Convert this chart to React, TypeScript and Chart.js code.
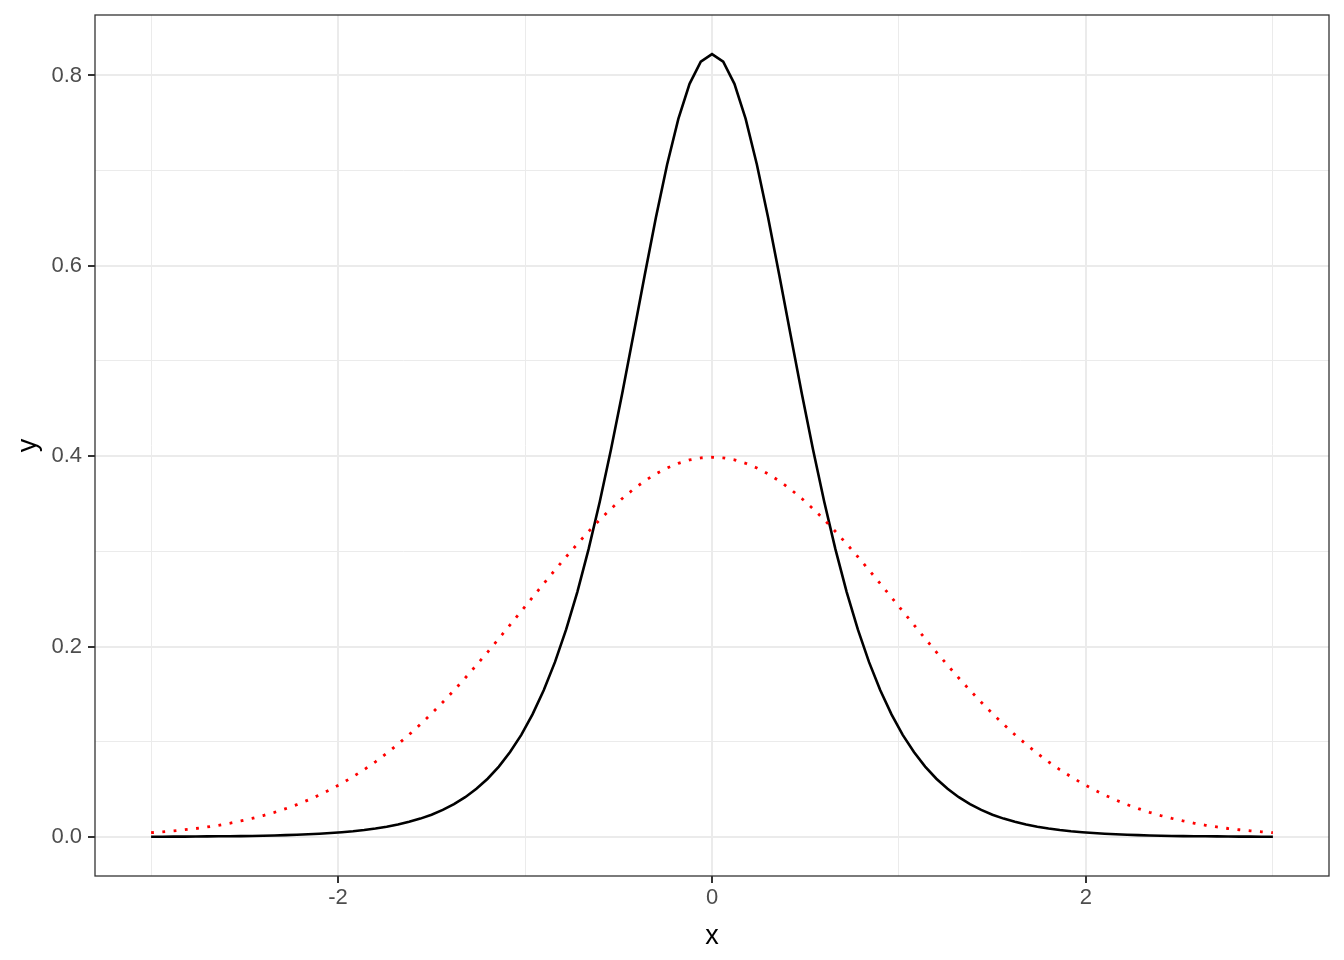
import React, { useEffect, useRef } from "react";
import { Chart, registerables } from "chart.js";

Chart.register(...registerables);

// x positions of the sampled curves
const xValues = [
  -3, -2.94, -2.88, -2.82, -2.76, -2.7, -2.64, -2.58, -2.52, -2.46,
  -2.4, -2.34, -2.28, -2.22, -2.16, -2.1, -2.04, -1.98, -1.92, -1.86,
  -1.8, -1.74, -1.68, -1.62, -1.56, -1.5, -1.44, -1.38, -1.32, -1.26,
  -1.2, -1.14, -1.08, -1.02, -0.96, -0.9, -0.84, -0.78, -0.72, -0.66,
  -0.6, -0.54, -0.48, -0.42, -0.36, -0.3, -0.24, -0.18, -0.12, -0.06,
  0,
  0.06, 0.12, 0.18, 0.24, 0.3, 0.36, 0.42, 0.48, 0.54, 0.6,
  0.66, 0.72, 0.78, 0.84, 0.9, 0.96, 1.02, 1.08, 1.14, 1.2,
  1.26, 1.32, 1.38, 1.44, 1.5, 1.56, 1.62, 1.68, 1.74, 1.8,
  1.86, 1.92, 1.98, 2.04, 2.1, 2.16, 2.22, 2.28, 2.34, 2.4,
  2.46, 2.52, 2.58, 2.64, 2.7, 2.76, 2.82, 2.88, 2.94, 3,
];

// black solid curve (peaked)
const peakedCurve = [
  0.0002, 0.0002, 0.0003, 0.0003, 0.0004, 0.0005, 0.0006, 0.0007, 0.0008, 0.001,
  0.0012, 0.0015, 0.0018, 0.0022, 0.0027, 0.0033, 0.004, 0.0049, 0.0059, 0.0072,
  0.0088, 0.0107, 0.013, 0.0158, 0.0192, 0.0233, 0.0283, 0.0344, 0.0417, 0.0505,
  0.0611, 0.0738, 0.0891, 0.1072, 0.1287, 0.154, 0.1836, 0.218, 0.2575, 0.3023,
  0.3523, 0.4073, 0.4662, 0.5278, 0.5901, 0.6507, 0.7065, 0.7543, 0.7912, 0.8144,
  0.8224,
  0.8144, 0.7912, 0.7543, 0.7065, 0.6507, 0.5901, 0.5278, 0.4662, 0.4073, 0.3523,
  0.3023, 0.2575, 0.218, 0.1836, 0.154, 0.1287, 0.1072, 0.0891, 0.0738, 0.0611,
  0.0505, 0.0417, 0.0344, 0.0283, 0.0233, 0.0192, 0.0158, 0.013, 0.0107, 0.0088,
  0.0072, 0.0059, 0.0049, 0.004, 0.0033, 0.0027, 0.0022, 0.0018, 0.0015, 0.0012,
  0.001, 0.0008, 0.0007, 0.0006, 0.0005, 0.0004, 0.0003, 0.0003, 0.0002, 0.0002,
];

// red dotted curve (normal)
const normalCurve = [
  0.0044, 0.0053, 0.0063, 0.0075, 0.0088, 0.0104, 0.0122, 0.0143, 0.0167, 0.0194,
  0.0224, 0.0258, 0.0297, 0.0339, 0.0387, 0.044, 0.0498, 0.0562, 0.0632, 0.0707,
  0.0789, 0.0878, 0.0973, 0.1074, 0.1182, 0.1295, 0.1415, 0.1539, 0.1669, 0.1804,
  0.1942, 0.2083, 0.2227, 0.2371, 0.2516, 0.2661, 0.2803, 0.2943, 0.3078, 0.3209,
  0.3332, 0.3448, 0.3555, 0.3653, 0.3739, 0.3814, 0.3876, 0.3925, 0.3961, 0.3982,
  0.3989,
  0.3982, 0.3961, 0.3925, 0.3876, 0.3814, 0.3739, 0.3653, 0.3555, 0.3448, 0.3332,
  0.3209, 0.3078, 0.2943, 0.2803, 0.2661, 0.2516, 0.2371, 0.2227, 0.2083, 0.1942,
  0.1804, 0.1669, 0.1539, 0.1415, 0.1295, 0.1182, 0.1074, 0.0973, 0.0878, 0.0789,
  0.0707, 0.0632, 0.0562, 0.0498, 0.044, 0.0387, 0.0339, 0.0297, 0.0258, 0.0224,
  0.0194, 0.0167, 0.0143, 0.0122, 0.0104, 0.0088, 0.0075, 0.0063, 0.0053, 0.0044,
];

const xGridValues = [-3, -2, -1, 0, 1, 2, 3];
const xMajorTicks = [-2, 0, 2];
const xTickLabels = ["-2", "0", "2"];
const yGridValues = [0, 0.1, 0.2, 0.3, 0.4, 0.5, 0.6, 0.7, 0.8];
const yMajorTicks = [0, 0.2, 0.4, 0.6, 0.8];
const yTickLabels = ["0.0", "0.2", "0.4", "0.6", "0.8"];

const FONT = "'Liberation Sans', Arial, Helvetica, sans-serif";

const near = (a: number, b: number) => Math.abs(a - b) < 1e-6;
const majorIndex = (list: number[], v: number) => list.findIndex((m) => near(m, v));

const panelBorder = {
  id: "panelBorder",
  afterDatasetsDraw(chart: any) {
    const { ctx, chartArea } = chart;
    const { left, top, right, bottom } = chartArea;
    ctx.save();
    ctx.strokeStyle = "#333333";
    ctx.lineWidth = 1.3;
    ctx.strokeRect(left, top, right - left, bottom - top);
    ctx.restore();
  },
};

export default function App() {
  const canvasRef = useRef<HTMLCanvasElement | null>(null);

  useEffect(() => {
    if (!canvasRef.current) return;
    const chart = new Chart(canvasRef.current, {
      type: "line",
      data: {
        datasets: [
          {
            label: "normal",
            data: xValues.map((x, i) => ({ x, y: normalCurve[i] })),
            borderColor: "#FF0000",
            borderWidth: 2.8,
            borderDash: [2.8, 8.5],
            borderCapStyle: "butt",
            pointRadius: 0,
            tension: 0,
            fill: false,
            order: 0,
          },
          {
            label: "peaked",
            data: xValues.map((x, i) => ({ x, y: peakedCurve[i] })),
            borderColor: "#000000",
            borderWidth: 2.6,
            pointRadius: 0,
            tension: 0,
            fill: false,
            order: 1,
          },
        ],
      },
      options: {
        animation: false,
        responsive: false,
        maintainAspectRatio: false,
        devicePixelRatio: 1,
        layout: { padding: { left: 0, top: 15, right: 15, bottom: 0 } },
        plugins: {
          legend: { display: false },
          tooltip: { enabled: false },
        },
        scales: {
          x: {
            type: "linear",
            min: -3.3,
            max: 3.3,
            afterBuildTicks: (s: any) => {
              s.ticks = xGridValues.map((v) => ({ value: v }));
            },
            afterFit: (s: any) => {
              s.height = 84;
              s.paddingLeft = 0;
              s.paddingRight = 0;
            },
            ticks: {
              autoSkip: false,
              maxRotation: 0,
              padding: 2,
              color: "#4D4D4D",
              font: { size: 22, family: FONT },
              callback: (v: any) => {
                const i = majorIndex(xMajorTicks, Number(v));
                return i >= 0 ? xTickLabels[i] : "";
              },
            },
            grid: {
              color: "#EBEBEB",
              lineWidth: (ctx: any) =>
                ctx.tick && majorIndex(xMajorTicks, ctx.tick.value) >= 0 ? 2 : 1,
              drawTicks: true,
              tickLength: 7,
              tickWidth: 2,
              tickColor: (ctx: any) =>
                ctx.tick && majorIndex(xMajorTicks, ctx.tick.value) >= 0
                  ? "#333333"
                  : "rgba(0,0,0,0)",
            },
            border: { display: false },
            title: {
              display: true,
              text: "x",
              color: "#000000",
              font: { size: 27, family: FONT },
              padding: { top: 0, bottom: 7 },
            },
          },
          y: {
            type: "linear",
            min: -0.0411,
            max: 0.8635,
            afterBuildTicks: (s: any) => {
              s.ticks = yGridValues.map((v) => ({ value: v }));
            },
            afterFit: (s: any) => {
              s.width = 95;
              s.paddingTop = 0;
              s.paddingBottom = 0;
            },
            ticks: {
              autoSkip: false,
              padding: 6,
              color: "#4D4D4D",
              font: { size: 22, family: FONT },
              callback: (v: any) => {
                const i = majorIndex(yMajorTicks, Number(v));
                return i >= 0 ? yTickLabels[i] : "";
              },
            },
            grid: {
              color: "#EBEBEB",
              lineWidth: (ctx: any) =>
                ctx.tick && majorIndex(yMajorTicks, ctx.tick.value) >= 0 ? 2 : 1,
              drawTicks: true,
              tickLength: 7,
              tickWidth: 2,
              tickColor: (ctx: any) =>
                ctx.tick && majorIndex(yMajorTicks, ctx.tick.value) >= 0
                  ? "#333333"
                  : "rgba(0,0,0,0)",
            },
            border: { display: false },
            title: {
              display: true,
              text: "y",
              color: "#000000",
              font: { size: 27, family: FONT },
              padding: { top: 12, bottom: 0 },
            },
          },
        },
      },
      plugins: [panelBorder],
    } as any);
    return () => chart.destroy();
  }, []);

  return (
    <div style={{ position: "absolute", left: 0, top: 0, width: 1344, height: 960, background: "#FFFFFF" }}>
      <canvas ref={canvasRef} width={1344} height={960} style={{ display: "block" }} />
    </div>
  );
}
